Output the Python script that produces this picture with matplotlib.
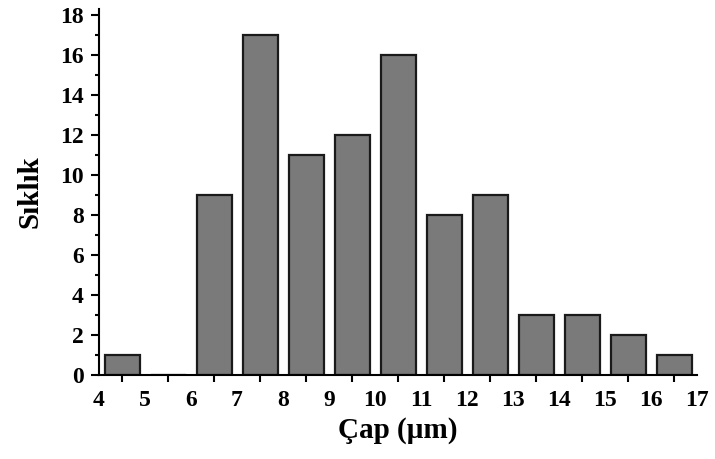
import matplotlib
matplotlib.use("Agg")
import matplotlib.pyplot as plt
import numpy as np

# histogram of diameters (bin left edges and counts)
bin_edges = [4, 5, 6, 7, 8, 9, 10, 11, 12, 13, 14, 15, 16]
counts = [1, 0, 9, 17, 11, 12, 16, 8, 9, 3, 3, 2, 1]
x_labels = [str(v) for v in range(4, 18)]

plt.rcParams['font.family'] = ['Liberation Serif', 'DejaVu Serif']
plt.rcParams['font.weight'] = 'bold'

fig = plt.figure(figsize=(7.15, 4.59), dpi=100)
ax = fig.add_axes([0.1385, 0.183, 0.8365, 0.797])

centers = np.array(bin_edges) + 0.5
ax.bar(centers, counts, width=0.76, color='#7a7a7a', edgecolor='#1a1a1a', linewidth=1.6)

ax.set_xlim(4, 17)
ax.set_ylim(0, 18.3)

# labels sit on the bin edges, tick marks on the bin centres
ax.set_xticks(range(4, 18))
ax.set_xticklabels(x_labels)
ax.set_xticks(centers, minor=True)
ax.tick_params(axis='x', which='major', length=0, pad=11, labelsize=17)
ax.tick_params(axis='x', which='minor', length=5, width=1.5, direction='out')

ax.set_yticks(range(0, 19, 2))
ax.set_yticks(range(1, 18, 2), minor=True)
ax.tick_params(axis='y', which='major', length=6, width=1.5, pad=5, labelsize=17)
ax.tick_params(axis='y', which='minor', length=3, width=1.5)

for side in ['top', 'right']:
    ax.spines[side].set_visible(False)
for side in ['left', 'bottom']:
    ax.spines[side].set_linewidth(1.5)

ax.set_xlabel('Çap (µm)', fontsize=21, fontweight='bold', labelpad=4)
ax.set_ylabel('Sıklık', fontsize=21, fontweight='bold', labelpad=12)

fig.savefig('out.png', dpi=100)
